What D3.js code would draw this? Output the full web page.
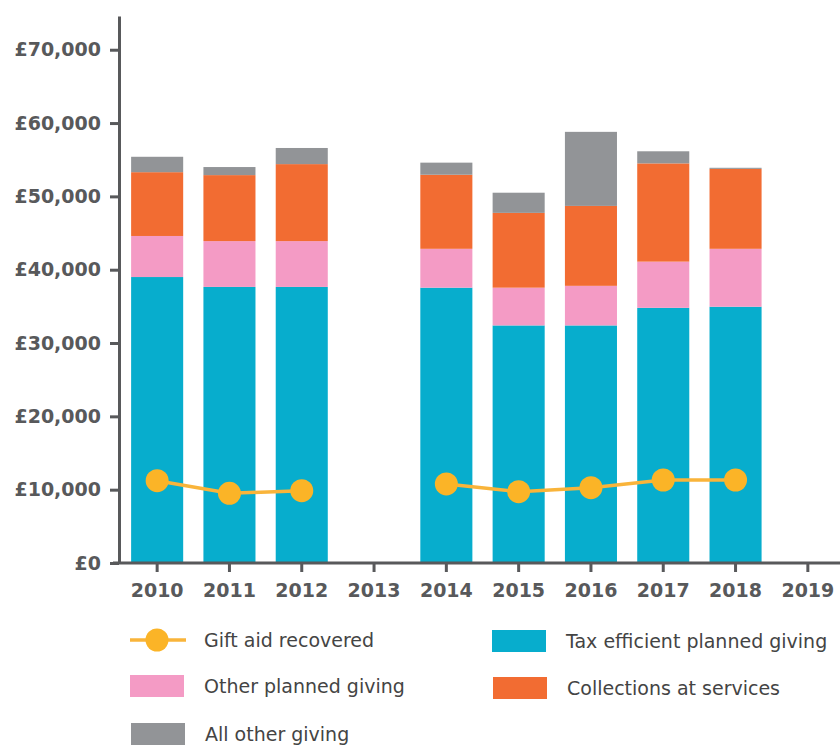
<!DOCTYPE html>
<html>
<head>
<meta charset="utf-8">
<script src="https://cdn.jsdelivr.net/npm/d3@7"></script>
<style>
  body { margin: 0; background: #fff; }
  svg text { font-family: "DejaVu Sans", Verdana, sans-serif; }
</style>
</head>
<body>
<svg id="chart" width="840" height="746"></svg>
<script>
// data
var years = ["2010", "2011", "2012", "2013", "2014", "2015", "2016", "2017", "2018", "2019"];
var taxEfficient = [39000, 37650, 37650, null, 37550, 32400, 32400, 34800, 34950, null];
var otherPlanned = [5600, 6250, 6250, null, 5300, 5150, 5400, 6300, 7900, null];
var collections = [8700, 9000, 10500, null, 10100, 10200, 10900, 13400, 10900, null];
var allOther = [2100, 1100, 2200, null, 1650, 2750, 10100, 1650, 150, null];
var giftAid = [11230, 9500, 9860, null, 10780, 9730, 10270, 11320, 11320, null];
var yTicks = [0, 10000, 20000, 30000, 40000, 50000, 60000, 70000];

var seriesNames = ["Tax efficient planned giving", "Other planned giving", "Collections at services", "All other giving"];
var seriesValues = [taxEfficient, otherPlanned, collections, allOther];
var colors = ["#07adcd", "#f49bc5", "#f26c32", "#929497"];
var giftColor = "#fbb427";

var svg = d3.select("#chart");
var axisX = 119, baseY = 563;

var x = d3.scaleBand().domain(years).range([121, 844]).paddingInner(0.28).paddingOuter(0.14);
var y = d3.scaleLinear().domain([0, 74600]).range([baseY, 16]);

// build table for stack
var table = years.map(function(yr, i) {
  var row = {year: yr};
  seriesNames.forEach(function(n, k) { row[n] = seriesValues[k][i] || 0; });
  return row;
});
var stacked = d3.stack().keys(seriesNames)(table);

svg.append("g").selectAll("g")
  .data(stacked)
  .enter().append("g")
    .attr("fill", function(d, i) { return colors[i]; })
  .selectAll("rect")
  .data(function(d) { return d; })
  .enter().append("rect")
    .attr("x", function(d) { return x(d.data.year); })
    .attr("width", x.bandwidth())
    .attr("y", function(d) { return y(d[1]); })
    .attr("height", function(d) { return y(d[0]) - y(d[1]); });

// y axis
var yAxis = svg.append("g")
  .attr("transform", "translate(" + axisX + ",0)")
  .call(d3.axisLeft(y).tickValues(yTicks).tickSize(9).tickPadding(9).tickSizeOuter(0)
    .tickFormat(function(d) { return "£" + d3.format(",")(d); }));
yAxis.select(".domain").attr("stroke", "#58595b").attr("stroke-width", 3);
yAxis.selectAll(".tick line").attr("stroke", "#58595b").attr("stroke-width", 3);
yAxis.selectAll(".tick text").attr("fill", "#58595b").attr("font-size", 19).attr("font-weight", "bold");

// x axis
var xAxis = svg.append("g")
  .attr("transform", "translate(0," + baseY + ")")
  .call(d3.axisBottom(x).tickSize(9).tickPadding(12));
xAxis.select(".domain").remove();
xAxis.append("line").attr("x1", axisX - 6).attr("x2", 840).attr("stroke", "#58595b").attr("stroke-width", 3);
xAxis.selectAll(".tick line").attr("stroke", "#58595b").attr("stroke-width", 3);
xAxis.selectAll(".tick text").attr("fill", "#58595b").attr("font-size", 19).attr("font-weight", "bold");

// gift aid line
var cx = function(i) { return x(years[i]) + x.bandwidth() / 2; };
var line = d3.line()
  .defined(function(d) { return d != null; })
  .x(function(d, i) { return cx(i); })
  .y(function(d) { return y(d); });
svg.append("path")
  .datum(giftAid)
  .attr("d", line)
  .attr("fill", "none")
  .attr("stroke", "#f9b43a")
  .attr("stroke-width", 3.5);
svg.append("g").selectAll("circle")
  .data(giftAid.map(function(v, i) { return {v: v, i: i}; }).filter(function(d) { return d.v != null; }))
  .enter().append("circle")
    .attr("cx", function(d) { return cx(d.i); })
    .attr("cy", function(d) { return y(d.v); })
    .attr("r", 11.5)
    .attr("fill", giftColor);

// legend
var legend = svg.append("g").attr("font-size", 19).attr("fill", "#444");
var lg = legend.append("g").attr("transform", "translate(130,640)");
lg.append("line").attr("x1", 0).attr("x2", 56).attr("stroke", "#f9b43a").attr("stroke-width", 3.5);
lg.append("circle").attr("cx", 27).attr("r", 11.5).attr("fill", giftColor);
lg.append("text").attr("x", 74).attr("dy", "0.35em").text("Gift aid recovered");

var boxes = [
  {name: seriesNames[0], color: colors[0], x: 492, y: 641},
  {name: seriesNames[1], color: colors[1], x: 130, y: 686},
  {name: seriesNames[2], color: colors[2], x: 493, y: 688},
  {name: seriesNames[3], color: colors[3], x: 131, y: 734}
];
var items = legend.selectAll("g.box").data(boxes).enter().append("g")
  .attr("class", "box")
  .attr("transform", function(d) { return "translate(" + d.x + "," + d.y + ")"; });
items.append("rect").attr("x", 0).attr("y", -11).attr("width", 54).attr("height", 22)
  .attr("fill", function(d) { return d.color; });
items.append("text").attr("x", 74).attr("dy", "0.35em").text(function(d) { return d.name; });
</script>
</body>
</html>
